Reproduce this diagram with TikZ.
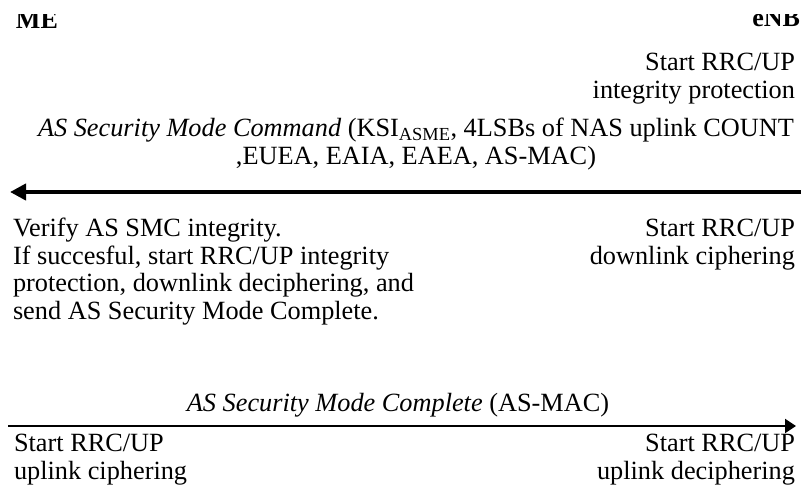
\documentclass[tikz,border=0pt]{standalone}
\usepackage{fontspec}
\setmainfont{Liberation Serif}
\usetikzlibrary{arrows.meta}
\begin{document}
\begin{tikzpicture}[x=1pt,y=-1pt,
  txt/.style={inner sep=0pt,outer sep=0pt,font=\fontsize{26.3}{27.4}\selectfont},
  lft/.style={txt,anchor=base west,align=left},
  rgt/.style={txt,anchor=base east,align=right},
  hdr/.style={txt,font=\fontsize{26}{27.3}\selectfont\bfseries},
  msgA/.style={line width=4pt,-{Triangle[length=16pt,width=16pt]}},
  msgB/.style={line width=2pt,-{Triangle[length=11pt,width=14pt]}}]
\useasboundingbox (0,0) rectangle (801,491);
\begin{scope}
  \clip (0,14.5) rectangle (801,491);
  \node[hdr,anchor=base west] (ue) at (16,28) {ME};
  \node[hdr,anchor=base east] (enb) at (800,26) {eNB};
\end{scope}
% multi-line nodes: base anchor sits on the last line's baseline
\node[rgt] (startint) at (795,98) {Start RRC/UP\\integrity protection};
\node[txt,anchor=base,align=center] (smc) at (416,164)
  {\textit{AS Security Mode Command} (KSI\textsubscript{ASME}, 4LSBs of NAS uplink COUNT\\,EUEA, EAIA, EAEA, AS-MAC)};
\coordinate (a1s) at (801,192);
\coordinate (a1e) at (10,192);
\draw[msgA] (a1s) -- (a1e);
\node[lft] (verify) at (13,319) {Verify AS SMC integrity.\\If succesful, start RRC/UP integrity\\protection, downlink deciphering, and\\send AS Security Mode Complete.};
\node[rgt] (dlc) at (795,264) {Start RRC/UP\\downlink ciphering};
\node[txt,anchor=base] (smcc) at (398,411) {\textit{AS Security Mode Complete} (AS-MAC)};
\coordinate (a2s) at (8,426);
\coordinate (a2e) at (796,426);
\draw[msgB] (a2s) -- (a2e);
\node[lft] (ulc) at (14,479) {Start RRC/UP\\uplink ciphering};
\node[rgt] (uld) at (795,479) {Start RRC/UP\\uplink deciphering};
\end{tikzpicture}
\end{document}
